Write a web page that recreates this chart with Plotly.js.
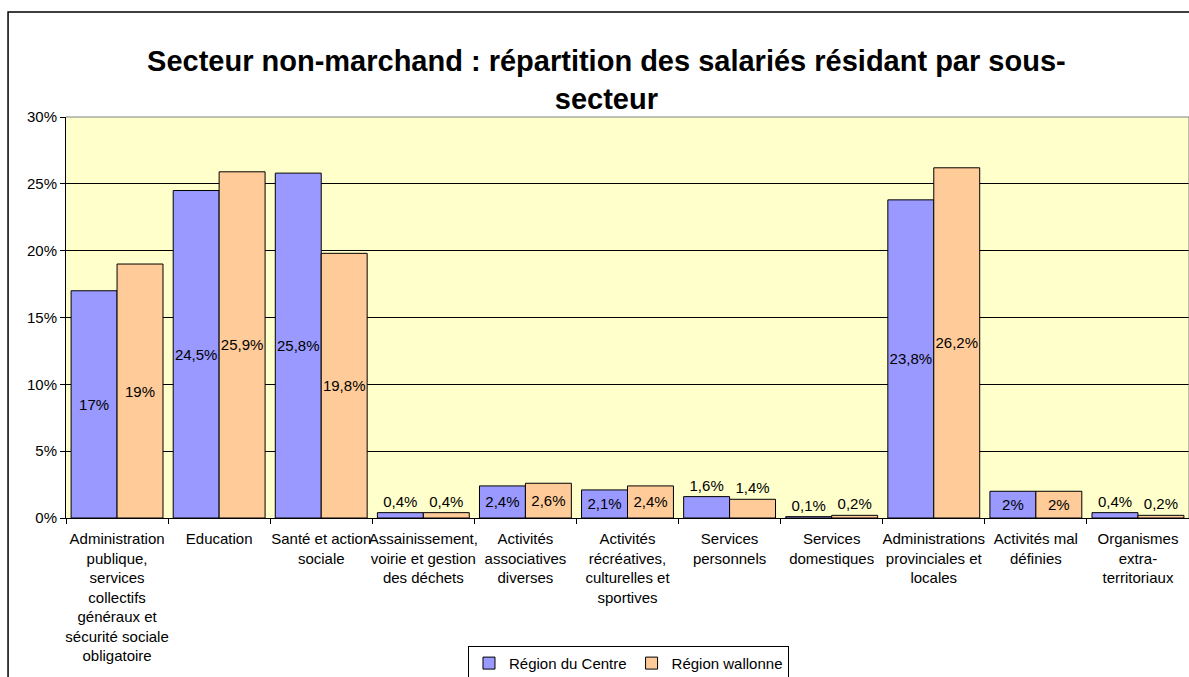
<!DOCTYPE html>
<html>
<head>
<meta charset="utf-8">
<script src="https://cdn.plot.ly/plotly-3.0.1.min.js"></script>
<style>html,body{margin:0;padding:0;background:#fff;}#chart{width:1189px;height:677px;}</style>
</head>
<body>
<div id="chart"></div>
<script>
const categories = [
  "Administration<br>publique,<br>services<br>collectifs<br>généraux et<br>sécurité sociale<br>obligatoire",
  "Education",
  "Santé et action<br>sociale",
  "Assainissement,<br>voirie et gestion<br>des déchets",
  "Activités<br>associatives<br>diverses",
  "Activités<br>récréatives,<br>culturelles et<br>sportives",
  "Services<br>personnels",
  "Services<br>domestiques",
  "Administrations<br>provinciales et<br>locales",
  "Activités mal<br>définies",
  "Organismes<br>extra-<br>territoriaux"
];
const regionCentre = [17, 24.5, 25.8, 0.4, 2.4, 2.1, 1.6, 0.1, 23.8, 2, 0.4];
const regionWallonne = [19, 25.9, 19.8, 0.4, 2.6, 2.4, 1.4, 0.2, 26.2, 2, 0.2];
const seriesNames = ["Région du Centre", "Région wallonne"];
const yTicks = [0, 5, 10, 15, 20, 25, 30];

const FONT = "Liberation Sans, Arial, sans-serif";
const fmt = v => String(v).replace('.', ',') + '%';
const pos = v => v >= 2 ? 'inside' : 'outside';

function mk(name, vals, color) {
  return {
    type: 'bar', name: name, x: categories, y: vals,
    text: vals.map(fmt), textposition: vals.map(pos), textangle: 0,
    insidetextanchor: 'middle', constraintext: 'none',
    textfont: {family: FONT, size: 15, color: '#000'},
    insidetextfont: {family: FONT, size: 15, color: '#000'},
    outsidetextfont: {family: FONT, size: 15, color: '#000'},
    marker: {color: color, line: {color: '#000', width: 1}},
    cliponaxis: false, hoverinfo: 'none'
  };
}

const data = [
  mk(seriesNames[0], regionCentre, '#9999FF'),
  mk(seriesNames[1], regionWallonne, '#FFCC99')
];

const layout = {
  width: 1189, height: 677,
  margin: {l: 66, r: 0, t: 117, b: 159},
  paper_bgcolor: '#fff', plot_bgcolor: '#FFFFCC',
  font: {family: FONT, size: 15, color: '#000'},
  title: {
    text: "<b>Secteur non-marchand : répartition des salariés résidant par sous-<br>secteur</b>",
    font: {family: FONT, size: 29, color: '#000'},
    xref: 'container', x: 0.51, xanchor: 'center',
    yref: 'container', y: 0.895, yanchor: 'top'
  },
  barmode: 'group', bargap: 0.1, bargroupgap: 0,
  showlegend: true,
  legend: {
    orientation: 'h', xref: 'container', yref: 'container',
    x: 0.3936, xanchor: 'left', y: 0.046, yanchor: 'top',
    bordercolor: '#000', borderwidth: 1, bgcolor: '#fff',
    font: {family: FONT, size: 15, color: '#000'},
    itemwidth: 30, traceorder: 'normal'
  },
  xaxis: {
    type: 'category', tickson: 'boundaries', ticks: 'outside', ticklen: 5,
    tickcolor: '#000', showline: true, linecolor: '#000', linewidth: 1,
    tickfont: {family: FONT, size: 15, color: '#000'}, tickangle: 0,
    ticklabelstandoff: 7,
    showgrid: false, fixedrange: true
  },
  yaxis: {
    range: [0, 30], tickvals: yTicks, ticktext: yTicks.map(v => v + '%'),
    ticks: 'outside', ticklen: 5, tickcolor: '#000',
    showline: true, linecolor: '#000', linewidth: 1,
    showgrid: true, gridcolor: '#000', gridwidth: 1, zeroline: false,
    tickfont: {family: FONT, size: 15, color: '#000'}, fixedrange: true
  },
  shapes: [
    {type: 'line', xref: 'paper', yref: 'paper', x0: 0, x1: 1, y0: 1, y1: 1,
     line: {color: '#808080', width: 1}, layer: 'above'},
    {type: 'line', xref: 'paper', yref: 'paper', x0: 1, x1: 1, y0: 0, y1: 1,
     line: {color: '#808080', width: 1}, layer: 'above'},
    {type: 'rect', xref: 'paper', yref: 'paper', x0: -0.0516, x1: 1.2, y0: -0.5, y1: 1.2618,
     line: {color: '#000', width: 1.5}, layer: 'below'}
  ]
};

Plotly.newPlot('chart', data, layout, {displayModeBar: false, staticPlot: true});
</script>
</body>
</html>
